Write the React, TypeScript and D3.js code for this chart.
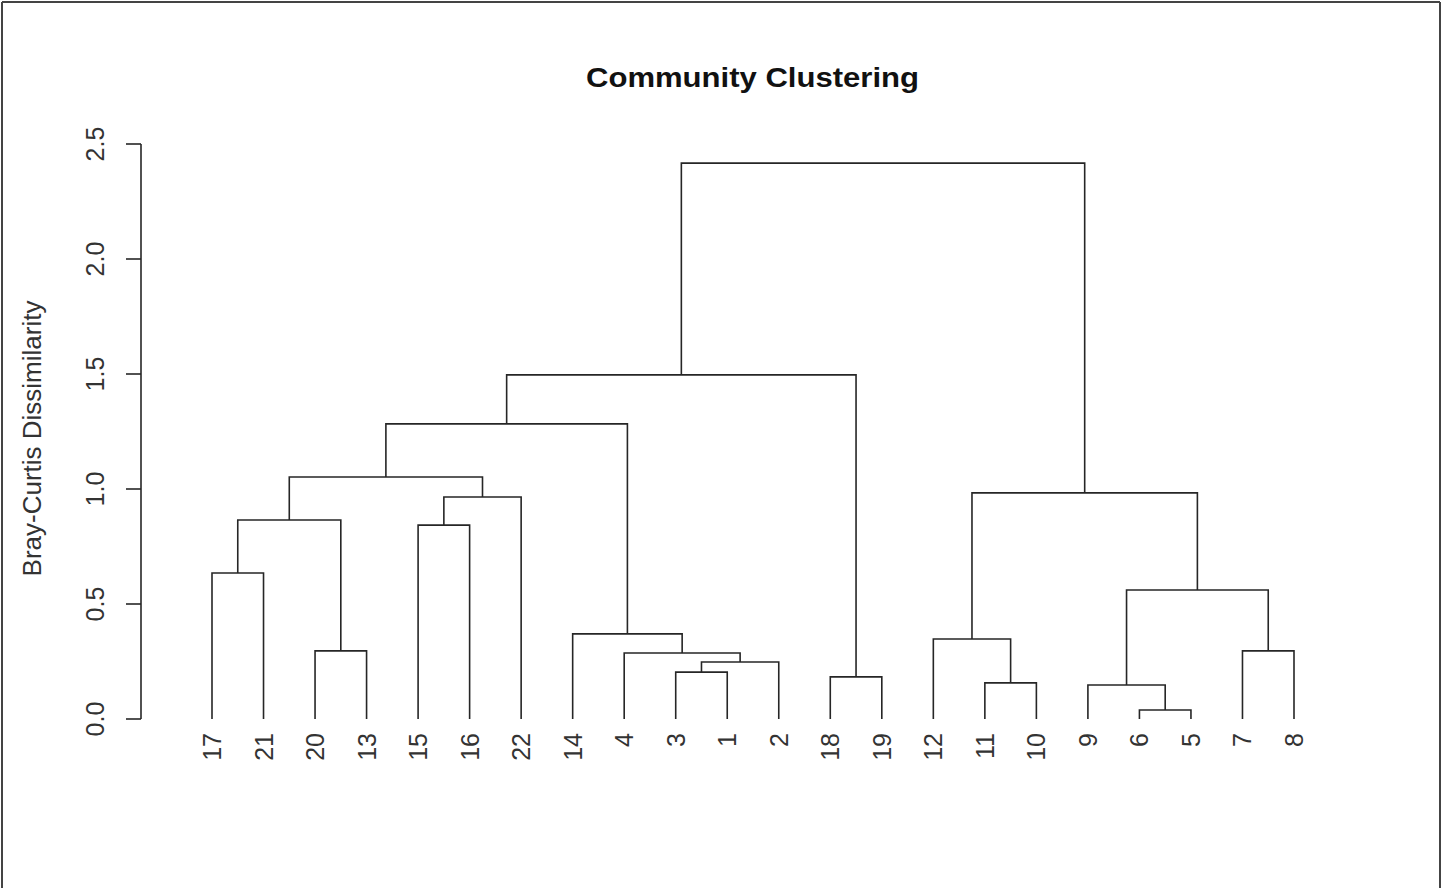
import React from "react";
import * as d3 from "d3";

// Leaf labels in dendrogram order (left to right)
const leafOrder = ["17", "21", "20", "13", "15", "16", "22", "14", "4", "3", "1", "2", "18", "19", "12", "11", "10", "9", "6", "5", "7", "8"];

// hclust-style merge table: negative = leaf label, positive = earlier merge step (1-based)
const mergeLeft = [-6, -9, -11, -18, -3, 5, -4, -20, -7, -12, -14, 2, -17, -15, 13, 14, 10, 15, 18, 19, 20];
const mergeRight = [-5, 1, -10, -19, -1, -2, 6, -13, -8, 3, 7, 9, -21, -16, 8, -22, 12, 16, 11, 4, 17];
const mergeHeight = [0.039, 0.148, 0.157, 0.183, 0.204, 0.248, 0.287, 0.296, 0.296, 0.348, 0.37, 0.561, 0.635, 0.843, 0.865, 0.965, 0.983, 1.052, 1.283, 1.496, 2.417];

const yTicks = [0, 0.5, 1.0, 1.5, 2.0, 2.5];
const title = "Community Clustering";
const yLabel = "Bray-Curtis Dissimilarity";

const W = 1442;
const H = 888;

export default function App() {
  const x = d3.scaleLinear().domain([0, leafOrder.length - 1]).range([212, 1294]);
  const y = d3.scaleLinear().domain([0, 2.5]).range([719, 144]);

  const leafX = (label: number) => x(leafOrder.indexOf(String(label)));
  const nodeX: number[] = [];
  const nodeH: number[] = [];
  const posOf = (ref: number) => (ref < 0 ? leafX(-ref) : nodeX[ref - 1]);
  const hOf = (ref: number) => (ref < 0 ? 0 : nodeH[ref - 1]);

  const paths: string[] = [];
  mergeLeft.forEach((l, i) => {
    const r = mergeRight[i];
    const h = mergeHeight[i];
    const xl = posOf(l);
    const xr = posOf(r);
    const p = d3.path();
    p.moveTo(xl, y(hOf(l)));
    p.lineTo(xl, y(h));
    p.lineTo(xr, y(h));
    p.lineTo(xr, y(hOf(r)));
    paths.push(p.toString());
    nodeX.push((xl + xr) / 2);
    nodeH.push(h);
  });

  const font = "'Liberation Sans', Arial, Helvetica, sans-serif";
  const ink = "#262626";

  return (
    <svg
      width={W}
      height={H}
      style={{ position: "absolute", left: 0, top: 0, background: "#fff" }}
      fontFamily={font}
    >
      <rect x={0} y={0} width={W} height={H} fill="#fff" />
      {/* frame */}
      <line x1={2} y1={2} x2={2} y2={H} stroke="#444" strokeWidth={2} />
      <line x1={2} y1={2} x2={1440} y2={2} stroke="#444" strokeWidth={2} />
      <line x1={1440} y1={2} x2={1440} y2={H} stroke="#444" strokeWidth={2} />

      {/* title */}
      <text
        x={752.5}
        y={87}
        textAnchor="middle"
        fontSize={28}
        fontWeight="bold"
        fill="#111"
        textLength={333}
        lengthAdjust="spacingAndGlyphs"
      >
        {title}
      </text>

      {/* y axis */}
      <line x1={141} x2={141} y1={y(2.5)} y2={y(0)} stroke={ink} strokeWidth={1.6} />
      {yTicks.map((t) => (
        <g key={t}>
          <line x1={126} x2={141} y1={y(t)} y2={y(t)} stroke={ink} strokeWidth={1.6} />
          <text
            transform={`translate(104,${y(t)}) rotate(-90)`}
            textAnchor="middle"
            fontSize={25}
            fill="#333"
          >
            {t.toFixed(1)}
          </text>
        </g>
      ))}
      <text
        transform={`translate(41,438.5) rotate(-90)`}
        textAnchor="middle"
        fontSize={26}
        fill="#333"
      >
        {yLabel}
      </text>

      {/* dendrogram */}
      {paths.map((d, i) => (
        <path key={i} d={d} fill="none" stroke={ink} strokeWidth={1.6} />
      ))}

      {/* leaf labels */}
      {leafOrder.map((lab, i) => (
        <text
          key={lab}
          transform={`translate(${x(i) + 9},733) rotate(-90)`}
          textAnchor="end"
          fontSize={25}
          fill="#333"
        >
          {lab}
        </text>
      ))}
    </svg>
  );
}
